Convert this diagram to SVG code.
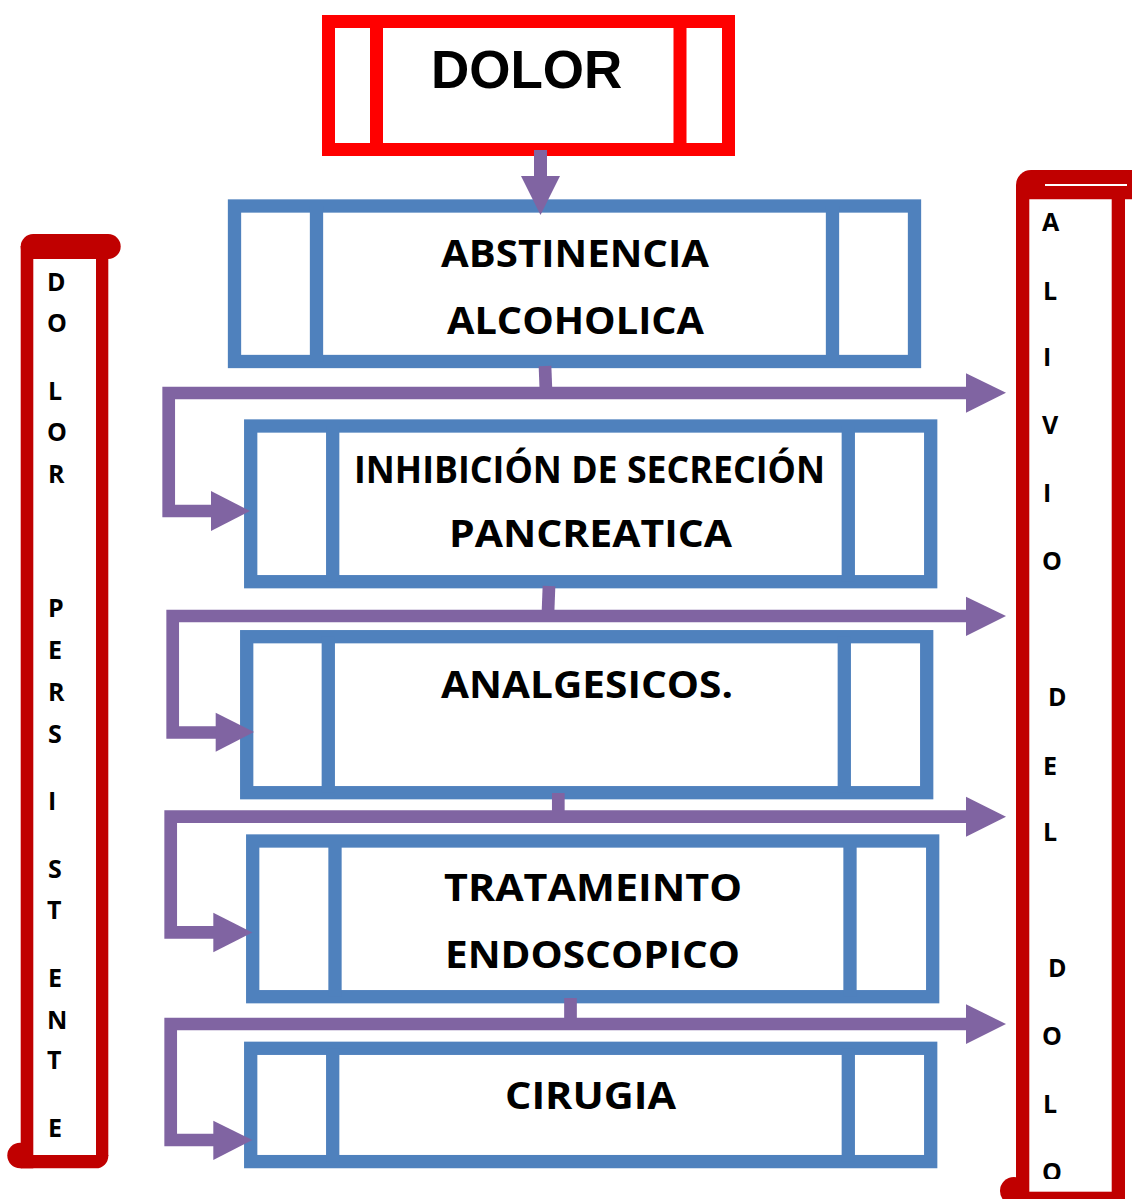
<svg xmlns="http://www.w3.org/2000/svg" width="1132" height="1199" viewBox="0 0 1132 1199">
<style>
.blue{fill:#fff;stroke:#4F81BD;stroke-width:13.3}
.bar{stroke:#4F81BD;stroke-width:13.3}
.red{fill:#fff;stroke:#FF0000;stroke-width:13}
.rbar{stroke:#FF0000;stroke-width:13}
.conn{fill:none;stroke:#8064A2;stroke-width:12.7;stroke-linejoin:miter}
.head{fill:#8064A2}
.sc{fill:#C00000}
.t{font-family:"Open Sans","Liberation Sans",sans-serif;font-weight:700;font-size:37px;fill:#000}
.l{font-family:"Open Sans","Liberation Sans",sans-serif;font-weight:700;font-size:25px;fill:#000}
</style>
<defs>
<clipPath id="rclip"><rect x="1029" y="199" width="83" height="980"/></clipPath>
</defs>
<rect width="1132" height="1199" fill="#fff"/>

<g id="dolor">
<rect class="red" x="328.5" y="21.5" width="400" height="128"/>
<line class="rbar" x1="376.5" y1="21.5" x2="376.5" y2="149.5"/>
<line class="rbar" x1="680" y1="21.5" x2="680" y2="149.5"/>
<text x="431" y="88" font-family="Liberation Sans, Arial, sans-serif" font-weight="700" font-size="53">DOLOR</text>
</g>

<g id="box1">
<rect class="blue" x="234.5" y="206" width="680" height="155.5"/>
<line class="bar" x1="316.5" y1="206" x2="316.5" y2="361.5"/>
<line class="bar" x1="832.5" y1="206" x2="832.5" y2="361.5"/>
<text class="t" x="441" y="267" textLength="268" lengthAdjust="spacingAndGlyphs">ABSTINENCIA</text>
<text class="t" x="447" y="334" textLength="257" lengthAdjust="spacingAndGlyphs">ALCOHOLICA</text>
</g>

<g id="box2">
<rect class="blue" x="250.7" y="426" width="680" height="155.7"/>
<line class="bar" x1="332.7" y1="426" x2="332.7" y2="581.7"/>
<line class="bar" x1="848.3" y1="426" x2="848.3" y2="581.7"/>
<text class="t" x="354" y="483" textLength="471" lengthAdjust="spacingAndGlyphs">INHIBICIÓN DE SECRECIÓN</text>
<text class="t" x="449" y="547" textLength="283" lengthAdjust="spacingAndGlyphs">PANCREATICA</text>
</g>

<g id="box3">
<rect class="blue" x="246.7" y="636.7" width="680" height="156"/>
<line class="bar" x1="328.3" y1="636.7" x2="328.3" y2="792.7"/>
<line class="bar" x1="844.3" y1="636.7" x2="844.3" y2="792.7"/>
<text class="t" x="441" y="698" textLength="292" lengthAdjust="spacingAndGlyphs">ANALGESICOS.</text>
</g>

<g id="box4">
<rect class="blue" x="252.7" y="841" width="680" height="155.7"/>
<line class="bar" x1="335" y1="841" x2="335" y2="996.7"/>
<line class="bar" x1="850" y1="841" x2="850" y2="996.7"/>
<text class="t" x="444" y="901" textLength="298" lengthAdjust="spacingAndGlyphs">TRATAMEINTO</text>
<text class="t" x="445" y="968" textLength="295" lengthAdjust="spacingAndGlyphs">ENDOSCOPICO</text>
</g>

<g id="box5">
<rect class="blue" x="250.7" y="1048.3" width="680" height="113.3"/>
<line class="bar" x1="332.7" y1="1048.3" x2="332.7" y2="1161.6"/>
<line class="bar" x1="848.3" y1="1048.3" x2="848.3" y2="1161.6"/>
<text class="t" x="505" y="1109" textLength="171" lengthAdjust="spacingAndGlyphs">CIRUGIA</text>
</g>

<g id="scroll-left">
<rect class="sc" x="20.7" y="234" width="100" height="25" rx="12.5"/>
<rect class="sc" x="20.7" y="246" width="12.6" height="922.3"/>
<rect class="sc" x="96" y="246" width="12.3" height="910"/>
<path class="sc" d="M20.7 1155 H108.3 V1156 A12.3 12.3 0 0 1 96 1168.3 H20.7 Z"/>
<circle class="sc" cx="20" cy="1155.5" r="12.7"/>
<g class="l">
<text x="47" y="291">D</text>
<text x="47" y="332">O</text>
<text x="48" y="400">L</text>
<text x="47" y="441">O</text>
<text x="48" y="483">R</text>
<text x="48" y="617">P</text>
<text x="48" y="659">E</text>
<text x="48" y="701">R</text>
<text x="48" y="743">S</text>
<text x="48" y="810">I</text>
<text x="48" y="878">S</text>
<text x="47" y="919">T</text>
<text x="48" y="987">E</text>
<text x="47" y="1029">N</text>
<text x="47" y="1069">T</text>
<text x="48" y="1137">E</text>
</g>
</g>

<g id="scroll-right">
<path class="sc" d="M1016 185 A15 15 0 0 1 1031 170 H1132 V199.3 H1016 Z"/>
<rect x="1045" y="184" width="82" height="2" fill="#fff"/>
<rect class="sc" x="1016" y="185" width="13.3" height="1014"/>
<rect class="sc" x="1111.7" y="199" width="13.3" height="1000"/>
<rect class="sc" x="1016" y="1191.7" width="109" height="8"/>
<circle class="sc" cx="1014" cy="1191" r="14"/>
<g class="l" clip-path="url(#rclip)">
<text x="1042" y="231">A</text>
<text x="1043" y="300">L</text>
<text x="1043" y="366">I</text>
<text x="1042" y="434">V</text>
<text x="1043" y="502">I</text>
<text x="1042" y="570">O</text>
<text x="1048" y="706">D</text>
<text x="1043" y="775">E</text>
<text x="1043" y="841">L</text>
<text x="1048" y="977">D</text>
<text x="1042" y="1045">O</text>
<text x="1043" y="1113">L</text>
<text x="1042" y="1181">O</text>
</g>
</g>

<g id="connectors">
<rect class="head" x="534" y="150" width="13" height="27"/>
<polygon class="head" points="521,176 560,176 540.5,215"/>

<line class="conn" x1="545" y1="366" x2="546" y2="392"/>
<path class="conn" d="M967 393 H168.7 V511 H212"/>
<polygon class="head" points="966,373.3 1006,392.7 966,412.7"/>
<polygon class="head" points="211,491 250,511 211,531"/>

<line class="conn" x1="549" y1="586" x2="548" y2="612"/>
<path class="conn" d="M967 616 H172.7 V732.5 H216"/>
<polygon class="head" points="966,596.7 1006,616 966,636"/>
<polygon class="head" points="215.7,712.7 254,732 215.7,751.7"/>

<line class="conn" x1="558.3" y1="793" x2="558.3" y2="812"/>
<path class="conn" d="M967 816.7 H170.7 V932.3 H214"/>
<polygon class="head" points="966,796.7 1006,816.7 966,836.7"/>
<polygon class="head" points="213.3,912.7 252.3,932.5 213.3,952.3"/>

<line class="conn" x1="570.5" y1="998" x2="570.5" y2="1019"/>
<path class="conn" d="M967 1024 H170.7 V1140 H214"/>
<polygon class="head" points="966,1004.3 1006,1024 966,1044"/>
<polygon class="head" points="213.3,1120.7 252.3,1140 213.3,1160"/>
</g>
</svg>
